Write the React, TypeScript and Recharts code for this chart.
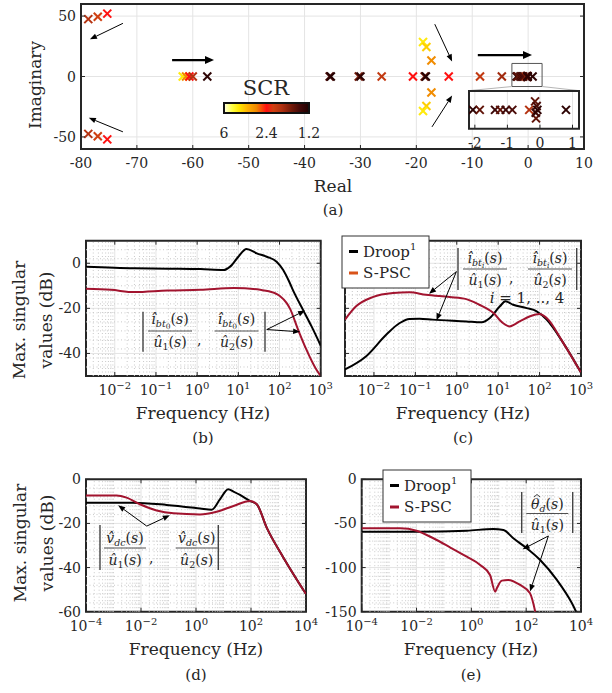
import React from 'react'
import {
  ScatterChart,
  Scatter,
  LineChart,
  Line,
  XAxis,
  YAxis,
  CartesianGrid,
  ReferenceLine,
  ReferenceArea,
} from 'recharts'

const W = 612
const H = 693
const FONT = '"DejaVu Serif", "Liberation Serif", serif'
const INK = '#262626'
const GRID = '#e4e4e4'
const MINOR = '#c9c9c9'
const DROOP = '#000000'
const SPSC = '#a2142f'
const SPSC_LEGEND_C = '#d95319'

// ---------- (a) pole map ----------
const poleRe = [
  -78.7, -77.0, -75.3, -78.7, -77.0, -75.3,
  -61.8, -61.2, -60.6, -60.0, -57.4,
  -35.5, -35.3, -30.3, -30.0, -26.2, -20.6, -18.5, -18.3, -14.2, -8.6, -4.7,
  -18.8, -18.2, -17.3, -17.3, -18.2, -18.8,
  -2.06, -1.85, -1.38, -1.22, -1.05, -0.85, -0.33, -0.15, -0.12, -0.1, -0.13, -0.08, 0.8,
]
const poleIm = [
  47.5, 49.4, 52.0, -47.5, -49.4, -52.0,
  0, 0, 0, 0, 0,
  0, 0, 0, 0, 0, 0, 0, 0, 0, 0, 0,
  28.6, 24.4, 13.3, -13.3, -24.4, -28.6,
  0, 0, 0, 0, 0, 0, 0, 0.45, -0.45, 0.2, -0.15, 0, 0,
]
const poleScr = [
  2.0, 2.2, 2.4, 2.0, 2.2, 2.4,
  4.8, 3.3, 2.4, 2.0, 1.3,
  1.5, 1.25, 1.7, 1.3, 2.1, 2.4, 1.7, 1.25, 2.4, 2.1, 1.9,
  4.8, 4.4, 3.3, 3.3, 4.4, 4.8,
  1.3, 1.6, 1.4, 1.6, 1.4, 1.5, 2.0, 1.6, 1.6, 1.5, 1.4, 1.3, 1.3,
]
const realTicks = [-80, -70, -60, -50, -40, -30, -20, -10, 0, 10]
const imagTicks = [-50, 0, 50]
const insetTicks = [-2, -1, 0, 1]
const scrTicks = [6, 2.4, 1.2]
const scrTickPos = [0, 0.5, 1]

// colormap (reversed "hot"-like) used for the SCR colour bar
const cmapStops: [number, string][] = [
  [0, '#ffffe8'],
  [0.1, '#ffff40'],
  [0.18, '#ffe600'],
  [0.28, '#ffb000'],
  [0.38, '#f08a00'],
  [0.5, '#ff1010'],
  [0.58, '#d04010'],
  [0.68, '#b03010'],
  [0.8, '#701808'],
  [0.9, '#400808'],
  [1, '#200000'],
]

// ---------- (b)-(e) frequency responses: [Hz, dB] ----------
const bDroop = [
  [0.002, -1.5], [0.03, -2.2], [0.2, -2.4], [1.2, -2.6], [4.4, -3], [6.3, -1.5], [10, 2.9],
  [15.8, 6.3], [28, 4.4], [49, 2.9], [85, 0.7], [123, -3], [170, -8], [219, -12.5],
  [380, -21], [600, -28], [1000, -36.5],
]
const bSpsc = [
  [0.002, -11.3], [0.008, -11.8], [0.03, -12.8], [0.19, -12.1], [1.2, -11.8], [7.8, -11],
  [34, -11.8], [71, -13], [102, -14.5], [148, -17.6], [178, -20], [282, -29.4], [447, -38.2],
  [776, -47], [1000, -50],
]
const cDroop = [
  [0.002, -47.1], [0.0065, -41.2], [0.02, -31.6], [0.042, -26.5], [0.072, -24.7], [0.126, -24.6],
  [0.26, -25], [1.7, -25.8], [4, -26.2], [6.3, -24.3], [11, -19.1], [15, -16.9], [23, -18.4],
  [49, -19.9], [85, -21.3], [148, -25], [372, -35.3], [1000, -48.5],
]
const cSpsc = [
  [0.002, -25], [0.0037, -19.1], [0.0093, -15], [0.029, -13.2], [0.072, -12.9], [0.18, -14],
  [0.68, -15], [1.7, -15.9], [3.5, -18.4], [7.6, -22], [13, -26.5], [19, -28], [33, -25.8],
  [59, -23.5], [100, -22.5], [148, -24.3], [372, -35.3], [1000, -48.5],
]
const dDroop = [
  [0.0001, -10.6], [0.005, -10.6], [0.085, -11.6], [1.4, -13.2], [3.7, -13.8], [7.4, -9.1],
  [14.8, -4.5], [23, -5.6], [40, -7.1], [91, -9.8], [162, -11.3], [372, -21.9], [1514, -35.5],
  [10000, -52],
]
const dSpsc = [
  [0.0001, -7.3], [0.0013, -7.3], [0.003, -8.3], [0.0091, -11.3], [0.037, -14.1], [0.15, -15.4],
  [1.4, -15.9], [5.6, -14.7], [23, -12.1], [91, -9.8], [162, -11.3], [372, -21.9], [1514, -35.5],
  [10000, -52],
]
const eDroop = [
  [0.0001, -59.3], [0.01, -59.3], [0.68, -58.2], [6.3, -56.3], [14.8, -57.4], [34, -66.8],
  [105, -78.1], [324, -91.4], [1318, -114], [4677, -140.4], [10000, -162],
]
const eSpsc = [
  [0.0001, -55.5], [0.0025, -55.5], [0.01, -58.2], [0.041, -66.8], [0.166, -77], [0.68, -87.7],
  [2.1, -97], [4.8, -108.4], [7.4, -127.3], [8.5, -123.5], [12.9, -114.8], [22, -114],
  [60, -119.7], [138, -129], [214, -150], [300, -175],
]

const ticksB = [0.01, 0.1, 1, 10, 100, 1000]
const ticksD = [0.0001, 0.01, 1, 100, 10000]

// annotation arrows [x1, y1, x2, y2] in data units
const aThinArrows = [
  [-72.5, 44, -78.4, 30.8], [-72.5, -45.8, -78.6, -34.2],
  [-16.7, 43.3, -13.6, 12.5], [-17.2, -41.7, -13.6, -15.8],
]
const aThickArrows = [[-63.7, 13.6, -56.2, 13.6], [-9, 17.75, 0.7, 17.75]]
const aConnectors = [[-2.9, -8.3, -10.6, -11.7], [2.5, -8.3, 9.1, -11.7]]
const bArrows = [[49, -29.4, 417, -21], [49, -29.4, 316, -30.4]]
const cArrows = [[0.98, -3.7, 0.214, -13.5], [0.98, -3.7, 0.324, -25.3]]
const dArrows = [[0.0162, -21.2, 0.00148, -11.8], [0.0162, -21.2, 0.112, -16.3]]
const eArrows = [[646, -64.2, 74, -79.3], [646, -64.2, 138, -127]]

// ---------- helpers ----------
const toPts = (rows: number[][]) => rows.map(([f, db]) => ({ f, db }))
const poles = poleRe.map((re, i) => ({ re, im: poleIm[i], scr: poleScr[i] }))
const insetPoles = poles.filter((p) => p.re > -2.3 && p.re < 1.3 && Math.abs(p.im) < 1)

const hex = (c: string) => [1, 3, 5].map((i) => parseInt(c.slice(i, i + 2), 16))
const cmap = (t: number) => {
  for (let i = 1; i < cmapStops.length; i++) {
    const [t1, c1] = cmapStops[i]
    const [t0, c0] = cmapStops[i - 1]
    if (t <= t1) {
      const u = (t - t0) / (t1 - t0)
      const a = hex(c0)
      const b = hex(c1)
      return `rgb(${a.map((v, k) => Math.round(v + (b[k] - v) * u)).join(',')})`
    }
  }
  return cmapStops[cmapStops.length - 1][1]
}
const scrColor = (s: number) => {
  for (let i = 1; i < scrTicks.length; i++) {
    if (s >= scrTicks[i]) {
      const u = (scrTicks[i - 1] - s) / (scrTicks[i - 1] - scrTicks[i])
      return cmap(scrTickPos[i - 1] + u * (scrTickPos[i] - scrTickPos[i - 1]))
    }
  }
  return cmap(1)
}

const logMinor = (lo: number, hi: number, major: number[]) => {
  const out: number[] = []
  for (let d = Math.floor(Math.log10(lo)); d <= Math.ceil(Math.log10(hi)); d++) {
    for (let k = 1; k <= 9; k++) {
      const v = k * Math.pow(10, d)
      if (v > lo * 1.0001 && v < hi * 0.9999 && !major.some((m) => Math.abs(m - v) / m < 1e-6)) out.push(v)
    }
  }
  return out
}
const linMinor = (lo: number, hi: number, step: number, major: number[]) => {
  const out: number[] = []
  for (let v = lo + step; v < hi - 1e-9; v += step) {
    if (!major.some((m) => Math.abs(m - v) < 1e-6)) out.push(Math.round(v * 1000) / 1000)
  }
  return out
}

type Box = { l: number; t: number; r: number; b: number }
const margins = (bx: Box) => ({ left: bx.l - 30, top: bx.t - 2, right: W - bx.r - 2, bottom: H - bx.b - 20 })

const sup = (e: number) => (e < 0 ? '\u2212' + -e : String(e))

const BottomTick = (p: any) => (
  <g>
    <line x1={p.x} x2={p.x} y1={p.y} y2={p.y - 4} stroke={INK} />
    {p.log ? (
      <text x={p.x} y={p.y + 19} textAnchor="middle" fontFamily={FONT} fontSize={14} fill={INK}>
        10
        <tspan dy={-6} fontSize={10}>{sup(Math.round(Math.log10(p.payload.value)))}</tspan>
      </text>
    ) : (
      <text x={p.x} y={p.y + 19} textAnchor="middle" fontFamily={FONT} fontSize={14} fill={INK}>
        {p.payload.value}
      </text>
    )}
  </g>
)
const TopTick = (p: any) => <line x1={p.x} x2={p.x} y1={p.y} y2={p.y + 4} stroke={INK} />
const LeftTick = (p: any) => (
  <g>
    <line x1={p.x} x2={p.x + 4} y1={p.y} y2={p.y} stroke={INK} />
    {p.labels && (
      <text x={p.x - 5} y={p.y} dy="0.36em" textAnchor="end" fontFamily={FONT} fontSize={14} fill={INK}>
        {p.payload.value}
      </text>
    )}
  </g>
)
const RightTick = (p: any) => <line x1={p.x} x2={p.x - 4} y1={p.y} y2={p.y} stroke={INK} />

const arrowShape = (sw: number, len: number, half: number) => (p: any) => {
  const { x1, y1, x2, y2 } = p
  const a = Math.atan2(y2 - y1, x2 - x1)
  const bx = x2 - len * Math.cos(a)
  const by = y2 - len * Math.sin(a)
  const nx = -Math.sin(a) * half
  const ny = Math.cos(a) * half
  return (
    <g>
      <line x1={x1} y1={y1} x2={bx} y2={by} stroke="#000" strokeWidth={sw} />
      <polygon points={`${x2},${y2} ${bx + nx},${by + ny} ${bx - nx},${by - ny}`} fill="#000" />
    </g>
  )
}
const thinArrow = arrowShape(1, 7, 2.8)
const thickArrow = arrowShape(2.2, 9, 4)

const Cross = (p: any) => {
  const { cx, cy, payload } = p
  const c = scrColor(payload.scr)
  const r = 4
  return (
    <g>
      <line x1={cx - r} y1={cy - r} x2={cx + r} y2={cy + r} stroke={c} strokeWidth={2} />
      <line x1={cx - r} y1={cy + r} x2={cx + r} y2={cy - r} stroke={c} strokeWidth={2} />
    </g>
  )
}

const layer: React.CSSProperties = { position: 'absolute', left: 0, top: 0 }
const ids = { xAxisId: 'b', yAxisId: 'l' }

// ---------- (a) ----------
const aBox: Box = { l: 81, t: 4, r: 584, b: 149 }
const insetBox: Box = { l: 469, t: 91, r: 579, b: 128.7 }

function PolePanel() {
  return (
    <div style={layer}>
      <ScatterChart width={W} height={H} margin={margins(aBox)}>
        <CartesianGrid {...ids} stroke={GRID} fill="#fff" />
        <XAxis xAxisId="b" dataKey="re" type="number" domain={[-80, 10]} ticks={realTicks} interval={0}
          allowDataOverflow axisLine={false} tickSize={0} tickMargin={0} height={20} tick={(p: any) => <BottomTick {...p} />} />
        <XAxis xAxisId="t" orientation="top" type="number" domain={[-80, 10]} ticks={realTicks} interval={0}
          allowDataOverflow axisLine={false} tickSize={0} tickMargin={0} height={2} tick={(p: any) => <TopTick {...p} />} />
        <YAxis yAxisId="l" dataKey="im" type="number" domain={[-60, 60]} ticks={imagTicks} interval={0}
          allowDataOverflow axisLine={false} tickSize={0} tickMargin={0} width={30} tick={(p: any) => <LeftTick {...p} labels />} />
        <YAxis yAxisId="r" orientation="right" type="number" domain={[-60, 60]} ticks={imagTicks} interval={0}
          allowDataOverflow axisLine={false} tickSize={0} tickMargin={0} width={2} tick={(p: any) => <RightTick {...p} />} />
        <ReferenceArea {...ids} x1={-2.9} x2={2.5} y1={-8.3} y2={10.8} fill="none" stroke="#555" strokeWidth={1} ifOverflow="visible" />
        {aConnectors.map((s, i) => (
          <ReferenceLine key={'c' + i} {...ids} segment={[{ x: s[0], y: s[1] }, { x: s[2], y: s[3] }]} stroke="#b5b5b5" strokeWidth={1} ifOverflow="visible" />
        ))}
        {aThinArrows.map((s, i) => (
          <ReferenceLine key={'a' + i} {...ids} segment={[{ x: s[0], y: s[1] }, { x: s[2], y: s[3] }]} shape={thinArrow} ifOverflow="visible" />
        ))}
        {aThickArrows.map((s, i) => (
          <ReferenceLine key={'t' + i} {...ids} segment={[{ x: s[0], y: s[1] }, { x: s[2], y: s[3] }]} shape={thickArrow} ifOverflow="visible" />
        ))}
        <Scatter {...ids} data={poles} shape={Cross} isAnimationActive={false} />
        <ReferenceArea {...ids} x1={-80} x2={10} y1={-60} y2={60} fill="none" stroke={INK} strokeWidth={2} ifOverflow="visible" />
      </ScatterChart>
    </div>
  )
}

function InsetPanel() {
  return (
    <div style={layer}>
      <ScatterChart width={W} height={H} margin={margins(insetBox)}>
        <CartesianGrid {...ids} stroke={GRID} fill="#fff" horizontal={false} />
        <XAxis xAxisId="b" dataKey="re" type="number" domain={[-2.18, 1.2]} ticks={insetTicks} interval={0}
          allowDataOverflow axisLine={false} tickSize={0} tickMargin={0} height={20} tick={(p: any) => <BottomTick {...p} />} />
        <XAxis xAxisId="t" orientation="top" type="number" domain={[-2.18, 1.2]} ticks={insetTicks} interval={0}
          allowDataOverflow axisLine={false} tickSize={0} tickMargin={0} height={2} tick={(p: any) => <TopTick {...p} />} />
        <YAxis yAxisId="l" dataKey="im" type="number" domain={[-1, 1]} allowDataOverflow width={30} tick={false} axisLine={false} tickLine={false} />
        <YAxis yAxisId="r" orientation="right" type="number" domain={[-1, 1]} allowDataOverflow width={2} tick={false} axisLine={false} tickLine={false} />
        <Scatter {...ids} data={insetPoles} shape={Cross} isAnimationActive={false} />
        <ReferenceArea {...ids} x1={-2.18} x2={1.2} y1={-1} y2={1} fill="none" stroke={INK} strokeWidth={2} ifOverflow="visible" />
      </ScatterChart>
    </div>
  )
}

// ---------- (b)-(e) ----------
type FreqProps = {
  box: Box
  xDomain: [number, number]
  xTicks: number[]
  yDomain: [number, number]
  yTicks: number[]
  yMinorStep: number
  yLabels: boolean
  droop: number[][]
  spsc: number[][]
  arrows: number[][]
}

function FreqPanel({ box, xDomain, xTicks, yDomain, yTicks, yMinorStep, yLabels, droop, spsc, arrows }: FreqProps) {
  const xMinor = logMinor(xDomain[0], xDomain[1], xTicks)
  const yMinor = linMinor(yDomain[0], yDomain[1], yMinorStep, yTicks)
  return (
    <div style={layer}>
      <LineChart width={W} height={H} margin={margins(box)}>
        <CartesianGrid {...ids} stroke={GRID} fill="#fff" />
        {xMinor.map((v) => (
          <ReferenceLine key={'mx' + v} {...ids} x={v} stroke={MINOR} strokeDasharray="1 2.5" />
        ))}
        {yMinor.map((v) => (
          <ReferenceLine key={'my' + v} {...ids} y={v} stroke={MINOR} strokeDasharray="1 2.5" />
        ))}
        <XAxis xAxisId="b" dataKey="f" type="number" scale="log" domain={xDomain} ticks={xTicks} interval={0}
          allowDataOverflow axisLine={false} tickSize={0} tickMargin={0} height={20} tick={(p: any) => <BottomTick {...p} log />} />
        <XAxis xAxisId="t" orientation="top" dataKey="f" type="number" scale="log" domain={xDomain} ticks={xTicks} interval={0}
          allowDataOverflow axisLine={false} tickSize={0} tickMargin={0} height={2} tick={(p: any) => <TopTick {...p} />} />
        <YAxis yAxisId="l" type="number" domain={yDomain} ticks={yTicks} interval={0}
          allowDataOverflow axisLine={false} tickSize={0} tickMargin={0} width={30} tick={(p: any) => <LeftTick {...p} labels={yLabels} />} />
        <YAxis yAxisId="r" orientation="right" type="number" domain={yDomain} ticks={yTicks} interval={0}
          allowDataOverflow axisLine={false} tickSize={0} tickMargin={0} width={2} tick={(p: any) => <RightTick {...p} />} />
        <Line {...ids} data={toPts(droop)} dataKey="db" type="monotone" stroke={DROOP} strokeWidth={2} dot={false} isAnimationActive={false} />
        <Line {...ids} data={toPts(spsc)} dataKey="db" type="monotone" stroke={SPSC} strokeWidth={2} dot={false} isAnimationActive={false} />
        {arrows.map((s, i) => (
          <ReferenceLine key={'ar' + i} {...ids} segment={[{ x: s[0], y: s[1] }, { x: s[2], y: s[3] }]} shape={thinArrow} ifOverflow="visible" />
        ))}
        <ReferenceArea {...ids} x1={xDomain[0]} x2={xDomain[1]} y1={yDomain[0]} y2={yDomain[1]} fill="none" stroke={INK} strokeWidth={2} ifOverflow="visible" />
      </LineChart>
    </div>
  )
}

// ---------- text overlay ----------
const Txt = (p: any) => <text fontFamily={FONT} fill={INK} {...p} />

const VBar = ({ x, y1, y2 }: { x: number; y1: number; y2: number }) => (
  <line x1={x} x2={x} y1={y1} y2={y2} stroke="#444" strokeWidth={1.4} />
)

const Frac = ({ cx, yNum, yBar, yDen, w, num, den }: any) => (
  <g>
    <Txt x={cx} y={yNum} textAnchor="middle" fontSize={14}>{num}</Txt>
    <line x1={cx - w / 2} x2={cx + w / 2} y1={yBar} y2={yBar} stroke={INK} strokeWidth={0.8} />
    <Txt x={cx} y={yDen} textAnchor="middle" fontSize={14}>{den}</Txt>
  </g>
)

const S = () => (
  <>
    <tspan>(</tspan>
    <tspan fontStyle="italic">s</tspan>
    <tspan>)</tspan>
  </>
)
const IHat = ({ sub }: { sub: string }) => (
  <>
    <tspan fontStyle="italic">î</tspan>
    <tspan fontSize={9.5} fontStyle="italic" dy={3}>bt</tspan>
    <tspan fontSize={7.5} fontStyle={sub === 'i' ? 'italic' : 'normal'} dy={2}>{sub}</tspan>
    <tspan dy={-5}>
      <S />
    </tspan>
  </>
)
const UHat = ({ k }: { k: string }) => (
  <>
    <tspan fontStyle="italic">û</tspan>
    <tspan fontSize={9.5} dy={3}>{k}</tspan>
    <tspan dy={-3}>
      <S />
    </tspan>
  </>
)
const Sub = ({ base, sub }: { base: string; sub: string }) => (
  <>
    <tspan fontStyle="italic">{base}</tspan>
    <tspan fontSize={9.5} fontStyle="italic" dy={3}>{sub}</tspan>
    <tspan dy={-3}>
      <S />
    </tspan>
  </>
)
// small circumflex drawn as a stroke (for glyphs without a combining hat)
const HatMark = ({ x, y }: { x: number; y: number }) => (
  <polyline points={`${x - 3},${y + 2.5} ${x},${y} ${x + 3},${y + 2.5}`} fill="none" stroke={INK} strokeWidth={0.9} />
)

const LegendBox = ({ x, y, w, h, c2 }: { x: number; y: number; w: number; h: number; c2: string }) => (
  <g>
    <rect x={x} y={y} width={w} height={h} fill="#fff" stroke="#333" strokeWidth={1} />
    <line x1={x + 7} x2={x + 16} y1={y + 15.5} y2={y + 15.5} stroke={DROOP} strokeWidth={3} />
    <Txt x={x + 21} y={y + 21} fontSize={15}>
      Droop<tspan fontSize={10} dy={-7}>1</tspan>
    </Txt>
    <line x1={x + 7} x2={x + 16} y1={y + 37} y2={y + 37} stroke={c2} strokeWidth={3} />
    <Txt x={x + 21} y={y + 42} fontSize={15}>S-PSC</Txt>
  </g>
)

function Overlay() {
  const cbX = 224
  const cbW = 85
  return (
    <svg width={W} height={H} style={{ ...layer, pointerEvents: 'none' }}>
      <defs>
        <linearGradient id="scr" x1="0" x2="1" y1="0" y2="0">
          {cmapStops.map(([t, c]) => (
            <stop key={t} offset={t} stopColor={c} />
          ))}
        </linearGradient>
      </defs>

      {/* (a) */}
      <Txt transform="translate(41,85) rotate(-90)" textAnchor="middle" fontSize={17}>Imaginary</Txt>
      <Txt x={333} y={192} textAnchor="middle" fontSize={17}>Real</Txt>
      <Txt x={333} y={215} textAnchor="middle" fontSize={15}>(a)</Txt>
      <Txt x={266} y={95} textAnchor="middle" fontSize={21}>SCR</Txt>
      <rect x={cbX} y={103} width={cbW} height={10} fill="url(#scr)" stroke="#111" strokeWidth={2} />
      {scrTicks.map((v, i) => (
        <Txt key={v} x={cbX + scrTickPos[i] * cbW} y={138} textAnchor="middle" fontSize={14}>{v}</Txt>
      ))}

      {/* y labels (b), (d) */}
      <Txt transform="translate(25,320) rotate(-90)" textAnchor="middle" fontSize={17}>Max. singular</Txt>
      <Txt transform="translate(52,320) rotate(-90)" textAnchor="middle" fontSize={17}>values (dB)</Txt>
      <Txt transform="translate(25.5,543) rotate(-90)" textAnchor="middle" fontSize={17}>Max. singular</Txt>
      <Txt transform="translate(52.5,543) rotate(-90)" textAnchor="middle" fontSize={17}>values (dB)</Txt>

      {/* x labels + captions */}
      <Txt x={203} y={419} textAnchor="middle" fontSize={17}>Frequency (Hz)</Txt>
      <Txt x={463} y={419} textAnchor="middle" fontSize={17}>Frequency (Hz)</Txt>
      <Txt x={196} y={655} textAnchor="middle" fontSize={17}>Frequency (Hz)</Txt>
      <Txt x={471} y={655} textAnchor="middle" fontSize={17}>Frequency (Hz)</Txt>
      <Txt x={203} y={443} textAnchor="middle" fontSize={15}>(b)</Txt>
      <Txt x={463} y={443} textAnchor="middle" fontSize={15}>(c)</Txt>
      <Txt x={196} y={680} textAnchor="middle" fontSize={15}>(d)</Txt>
      <Txt x={471} y={680} textAnchor="middle" fontSize={15}>(e)</Txt>

      {/* (b) formula */}
      <VBar x={143} y1={311.7} y2={351.7} />
      <VBar x={265} y1={311.7} y2={351.7} />
      <Frac cx={170} yNum={324} yBar={331} yDen={347} w={44} num={<IHat sub="0" />} den={<UHat k="1" />} />
      <Txt x={197} y={345} fontSize={14}>,</Txt>
      <Frac cx={236.5} yNum={324} yBar={331} yDen={347} w={44} num={<IHat sub="0" />} den={<UHat k="2" />} />

      {/* (c) formula */}
      <VBar x={458} y1={248} y2={290} />
      <VBar x={576.7} y1={248} y2={290} />
      <Frac cx={485} yNum={263} yBar={269} yDen={285} w={44} num={<IHat sub="i" />} den={<UHat k="1" />} />
      <Txt x={509} y={283} fontSize={14}>,</Txt>
      <Frac cx={550} yNum={263} yBar={269} yDen={285} w={44} num={<IHat sub="i" />} den={<UHat k="2" />} />
      <Txt x={527} y={303} textAnchor="middle" fontSize={15}>
        <tspan fontStyle="italic">i</tspan> = 1, .., 4
      </Txt>
      <LegendBox x={342} y={236} w={87} h={52} c2={SPSC_LEGEND_C} />

      {/* (d) formula */}
      <VBar x={100} y1={525} y2={570} />
      <VBar x={218.3} y1={525} y2={570} />
      <Frac cx={125} yNum={543} yBar={548} yDen={565} w={42} num={<Sub base={'v\u0302'} sub="dc" />} den={<UHat k="1" />} />
      <Txt x={149} y={563} fontSize={14}>,</Txt>
      <Frac cx={196.7} yNum={543} yBar={548} yDen={565} w={42} num={<Sub base={'v\u0302'} sub="dc" />} den={<UHat k="2" />} />

      {/* (e) formula */}
      <VBar x={521.7} y1={492} y2={533} />
      <VBar x={572.7} y1={492} y2={533} />
      <Frac cx={547.3} yNum={509} yBar={513.5} yDen={530} w={42} num={<Sub base={'\u03b8'} sub="d" />} den={<UHat k="1" />} />
      <HatMark x={537} y={494.5} />
      <LegendBox x={383} y={470} w={88} h={52} c2={SPSC} />
    </svg>
  )
}

export default function App() {
  return (
    <div style={{ position: 'absolute', left: 0, top: 0, width: W, height: H, background: '#fff' }}>
      <PolePanel />
      <InsetPanel />
      <FreqPanel box={{ l: 86, t: 240.7, r: 320.7, b: 376 }} xDomain={[0.002, 1000]} xTicks={ticksB}
        yDomain={[-50, 10]} yTicks={[-40, -20, 0]} yMinorStep={4} yLabels droop={bDroop} spsc={bSpsc} arrows={bArrows} />
      <FreqPanel box={{ l: 345, t: 240.7, r: 581, b: 376 }} xDomain={[0.002, 1000]} xTicks={ticksB}
        yDomain={[-50, 10]} yTicks={[-40, -20, 0]} yMinorStep={4} yLabels={false} droop={cDroop} spsc={cSpsc} arrows={cArrows} />
      <FreqPanel box={{ l: 86, t: 479.3, r: 306, b: 611.7 }} xDomain={[0.0001, 10000]} xTicks={ticksD}
        yDomain={[-60, 0]} yTicks={[-60, -40, -20, 0]} yMinorStep={4} yLabels droop={dDroop} spsc={dSpsc} arrows={dArrows} />
      <FreqPanel box={{ l: 361.7, t: 479.3, r: 581, b: 611.7 }} xDomain={[0.0001, 10000]} xTicks={ticksD}
        yDomain={[-150, 0]} yTicks={[-150, -100, -50, 0]} yMinorStep={10} yLabels droop={eDroop} spsc={eSpsc} arrows={eArrows} />
      <Overlay />
    </div>
  )
}
